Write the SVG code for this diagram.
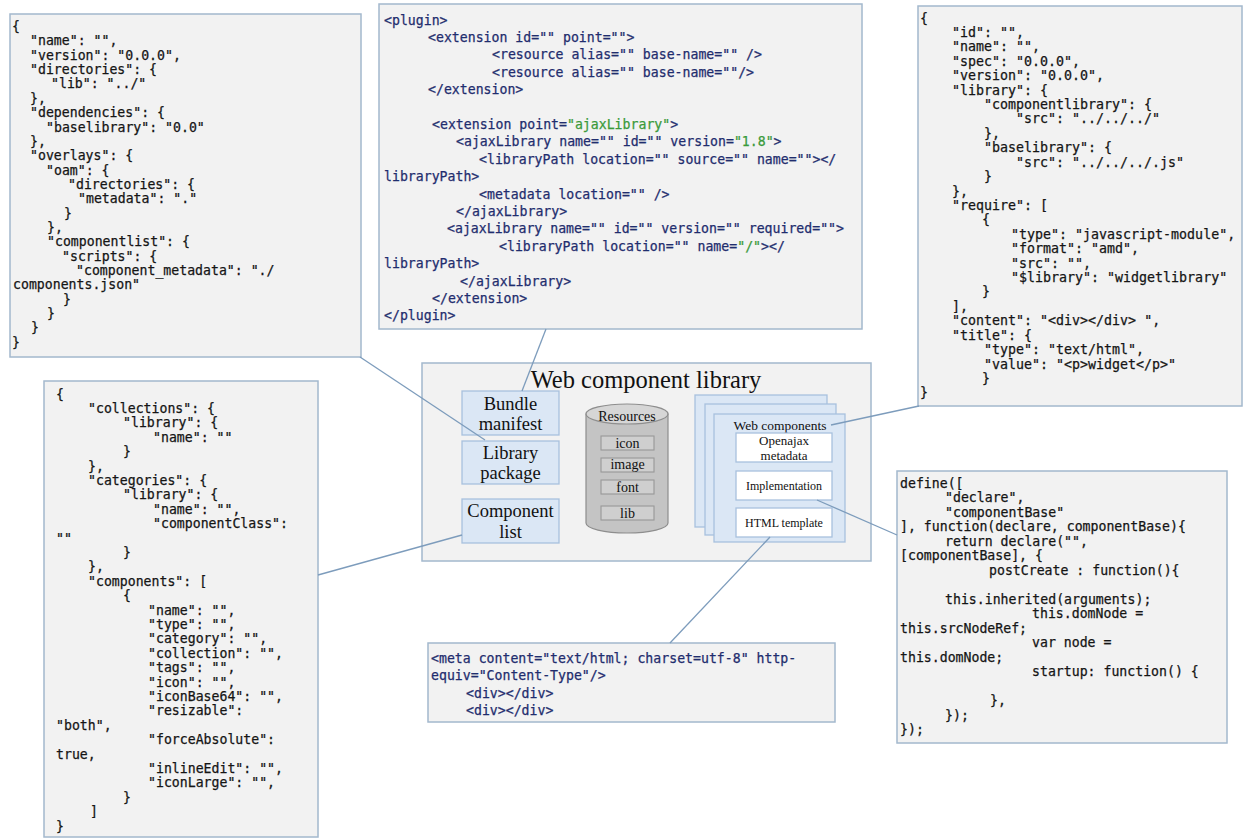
<svg xmlns="http://www.w3.org/2000/svg" width="1246" height="839" viewBox="0 0 1246 839">
<style>
.box{fill:#f2f2f2;stroke:#a3b8cd;stroke-width:1.5}
.code{font-family:"DejaVu Sans Mono","Liberation Mono",monospace;font-size:13.2px;fill:#151515;stroke:#151515;stroke-width:0.25;white-space:pre}
.xml{fill:#1f2d6e;stroke:#1f2d6e}
.g{fill:#3a9a3a;stroke:#3a9a3a}
.serif{font-family:"Liberation Serif","Times New Roman",serif;fill:#111;text-anchor:middle}
.sub{fill:#dbe7f5;stroke:#a8c1dd;stroke-width:1.3}
.wbox{fill:#fff;stroke:#a8c1dd;stroke-width:1.3}
.res{fill:#cfcfcf;stroke:#989898;stroke-width:1.1}
.conn line{stroke:#7d9cbc;stroke-width:1.3}
</style>
<rect width="1246" height="839" fill="#ffffff"/>

<g id="package-json">
<rect class="box" x="10" y="14" width="351" height="343"/>
<text class="code">
<tspan x="12" y="31">{</tspan>
<tspan x="30" y="45.4">"name": "",</tspan>
<tspan x="30" y="59.7">"version": "0.0.0",</tspan>
<tspan x="30" y="74.1">"directories": {</tspan>
<tspan x="51" y="88.4">"lib": "../"</tspan>
<tspan x="30" y="102.8">},</tspan>
<tspan x="30" y="117.1">"dependencies": {</tspan>
<tspan x="46" y="131.5">"baselibrary": "0.0"</tspan>
<tspan x="30" y="145.8">},</tspan>
<tspan x="30" y="160.2">"overlays": {</tspan>
<tspan x="46" y="174.5">"oam": {</tspan>
<tspan x="68" y="188.9">"directories": {</tspan>
<tspan x="78" y="203.2">"metadata": "."</tspan>
<tspan x="64" y="217.6">}</tspan>
<tspan x="47" y="231.9">},</tspan>
<tspan x="47" y="246.3">"componentlist": {</tspan>
<tspan x="62" y="260.6">"scripts": {</tspan>
<tspan x="76" y="275">"component_metadata": "./</tspan>
<tspan x="13" y="289.3">components.json"</tspan>
<tspan x="63" y="303.7">}</tspan>
<tspan x="47" y="318">}</tspan>
<tspan x="31" y="332.4">}</tspan>
<tspan x="12" y="346.7">}</tspan>
</text>
</g>

<g id="bundle-manifest-xml">
<rect class="box" x="379" y="4" width="483" height="325"/>
<text class="code xml">
<tspan x="384" y="24.5">&lt;plugin&gt;</tspan>
<tspan x="428" y="41.9">&lt;extension id="" point=""&gt;</tspan>
<tspan x="492" y="59.3">&lt;resource alias="" base-name="" /&gt;</tspan>
<tspan x="492" y="76.7">&lt;resource alias="" base-name=""/&gt;</tspan>
<tspan x="428" y="94.1">&lt;/extension&gt;</tspan>
<tspan x="432" y="128.9">&lt;extension point=<tspan class="g">"ajaxLibrary"</tspan>&gt;</tspan>
<tspan x="456" y="146.3">&lt;ajaxLibrary name="" id="" version=<tspan class="g">"1.8"</tspan>&gt;</tspan>
<tspan x="479" y="163.7">&lt;libraryPath location="" source="" name=""&gt;&lt;/</tspan>
<tspan x="384" y="181.1">libraryPath&gt;</tspan>
<tspan x="479" y="198.5">&lt;metadata location="" /&gt;</tspan>
<tspan x="456" y="215.9">&lt;/ajaxLibrary&gt;</tspan>
<tspan x="447" y="233.3">&lt;ajaxLibrary name="" id="" version="" required=""&gt;</tspan>
<tspan x="499" y="250.7">&lt;libraryPath location="" name=<tspan class="g">"/"</tspan>&gt;&lt;/</tspan>
<tspan x="384" y="268.1">libraryPath&gt;</tspan>
<tspan x="460" y="285.5">&lt;/ajaxLibrary&gt;</tspan>
<tspan x="432" y="302.9">&lt;/extension&gt;</tspan>
<tspan x="384" y="320.3">&lt;/plugin&gt;</tspan>
</text>
</g>

<g id="openajax-metadata-json">
<rect class="box" x="918" y="6" width="324" height="400"/>
<text class="code" style="font-size:13.3px">
<tspan x="920" y="22.5">{</tspan>
<tspan x="952" y="36.9">"id": "",</tspan>
<tspan x="952" y="51.3">"name": "",</tspan>
<tspan x="952" y="65.8">"spec": "0.0.0",</tspan>
<tspan x="952" y="80.2">"version": "0.0.0",</tspan>
<tspan x="952" y="94.6">"library": {</tspan>
<tspan x="984" y="109">"componentlibrary": {</tspan>
<tspan x="1016" y="123.4">"src": "../../../"</tspan>
<tspan x="984" y="137.9">},</tspan>
<tspan x="984" y="152.3">"baselibrary": {</tspan>
<tspan x="1016" y="166.7">"src": "../../../.js"</tspan>
<tspan x="984" y="181.1">}</tspan>
<tspan x="952" y="195.5">},</tspan>
<tspan x="952" y="209.9">"require": [</tspan>
<tspan x="982" y="224.4">{</tspan>
<tspan x="1011" y="238.8">"type": "javascript-module",</tspan>
<tspan x="1011" y="253.2">"format": "amd",</tspan>
<tspan x="1011" y="267.6">"src": "",</tspan>
<tspan x="1011" y="282">"$library": "widgetlibrary"</tspan>
<tspan x="982" y="296.4">}</tspan>
<tspan x="952" y="310.9">],</tspan>
<tspan x="952" y="325.3">"content": "&lt;div&gt;&lt;/div&gt; ",</tspan>
<tspan x="952" y="339.7">"title": {</tspan>
<tspan x="984" y="354.1">"type": "text/html",</tspan>
<tspan x="984" y="368.5">"value": "&lt;p&gt;widget&lt;/p&gt;"</tspan>
<tspan x="982" y="383">}</tspan>
<tspan x="920" y="397.4">}</tspan>
</text>
</g>

<g id="component-list-json">
<rect class="box" x="44" y="381" width="274" height="456"/>
<text class="code">
<tspan x="56" y="398.5">{</tspan>
<tspan x="88" y="412.9">"collections": {</tspan>
<tspan x="123" y="427.3">"library": {</tspan>
<tspan x="153" y="441.7">"name": ""</tspan>
<tspan x="123" y="456.1">}</tspan>
<tspan x="88" y="470.5">},</tspan>
<tspan x="88" y="484.9">"categories": {</tspan>
<tspan x="123" y="499.3">"library": {</tspan>
<tspan x="153" y="513.7">"name": "",</tspan>
<tspan x="153" y="528.1">"componentClass":</tspan>
<tspan x="56" y="542.5">""</tspan>
<tspan x="123" y="556.9">}</tspan>
<tspan x="88" y="571.3">},</tspan>
<tspan x="88" y="585.7">"components": [</tspan>
<tspan x="123" y="600.1">{</tspan>
<tspan x="148" y="614.5">"name": "",</tspan>
<tspan x="148" y="628.9">"type": "",</tspan>
<tspan x="148" y="643.3">"category": "",</tspan>
<tspan x="148" y="657.7">"collection": "",</tspan>
<tspan x="148" y="672.1">"tags": "",</tspan>
<tspan x="148" y="686.5">"icon": "",</tspan>
<tspan x="148" y="700.9">"iconBase64": "",</tspan>
<tspan x="148" y="715.3">"resizable":</tspan>
<tspan x="56" y="729.7">"both",</tspan>
<tspan x="148" y="744.1">"forceAbsolute":</tspan>
<tspan x="56" y="758.5">true,</tspan>
<tspan x="148" y="772.9">"inlineEdit": "",</tspan>
<tspan x="148" y="787.3">"iconLarge": "",</tspan>
<tspan x="123" y="801.7">}</tspan>
<tspan x="90" y="816.1">]</tspan>
<tspan x="56" y="830.5">}</tspan>
</text>
</g>

<g id="html-template">
<rect class="box" x="428" y="643" width="407" height="79"/>
<text class="code xml">
<tspan x="431" y="662.5">&lt;meta content="text/html; charset=utf-8" http-</tspan>
<tspan x="431" y="680.1">equiv="Content-Type"/&gt;</tspan>
<tspan x="466" y="697.7">&lt;div&gt;&lt;/div&gt;</tspan>
<tspan x="466" y="715.3">&lt;div&gt;&lt;/div&gt;</tspan>
</text>
</g>

<g id="implementation-js">
<rect class="box" x="897" y="471" width="330" height="272"/>
<text class="code">
<tspan x="900" y="487.5">define([</tspan>
<tspan x="945" y="502">"declare",</tspan>
<tspan x="945" y="516.5">"componentBase"</tspan>
<tspan x="900" y="531">], function(declare, componentBase){</tspan>
<tspan x="945" y="545.5">return declare("",</tspan>
<tspan x="900" y="560">[componentBase], {</tspan>
<tspan x="989" y="574.5">postCreate : function(){</tspan>
<tspan x="945" y="603.5">this.inherited(arguments);</tspan>
<tspan x="1032" y="618">this.domNode =</tspan>
<tspan x="900" y="632.5">this.srcNodeRef;</tspan>
<tspan x="1032" y="647">var node =</tspan>
<tspan x="900" y="661.5">this.domNode;</tspan>
<tspan x="1032" y="676">startup: function() {</tspan>
<tspan x="990" y="705">},</tspan>
<tspan x="945" y="719.5">});</tspan>
<tspan x="900" y="734">});</tspan>
</text>
</g>

<g id="web-component-library">
<rect class="box" x="422" y="363" width="449" height="198"/>
<text class="serif" x="646" y="388" style="font-size:24.5px">Web component library</text>
</g>

<g id="bundle-manifest">
<rect class="sub" x="462" y="391" width="97" height="44"/>
<text class="serif" x="510.5" y="409.5" style="font-size:18.5px">Bundle</text>
<text class="serif" x="510.5" y="430" style="font-size:18.5px">manifest</text>
</g>

<g id="library-package">
<rect class="sub" x="462" y="441" width="97" height="43"/>
<text class="serif" x="510.5" y="458.5" style="font-size:18.5px">Library</text>
<text class="serif" x="510.5" y="478.5" style="font-size:18.5px">package</text>
</g>

<g id="component-list">
<rect class="sub" x="462" y="499" width="97" height="44"/>
<text class="serif" x="510.5" y="517" style="font-size:18.5px">Component</text>
<text class="serif" x="510.5" y="538" style="font-size:18.5px">list</text>
</g>

<g id="resources">
<path d="M586,414 L586,523 A41,10 0 0,0 668,523 L668,414 Z" fill="#c4c4c4" stroke="#8e8e8e" stroke-width="1.2"/>
<ellipse cx="627" cy="414" rx="41" ry="10" fill="#d6d6d6" stroke="#8e8e8e" stroke-width="1.2"/>
<text class="serif" x="627" y="421" style="font-size:14px">Resources</text>
<rect class="res" x="601" y="436" width="53" height="14"/>
<text class="serif" x="627.5" y="447.5" style="font-size:14px">icon</text>
<rect class="res" x="601" y="458" width="53" height="14"/>
<text class="serif" x="627.5" y="469" style="font-size:14px">image</text>
<rect class="res" x="601" y="480" width="53" height="14"/>
<text class="serif" x="627.5" y="491.5" style="font-size:14px">font</text>
<rect class="res" x="601" y="506" width="53" height="14"/>
<text class="serif" x="627.5" y="517.5" style="font-size:14px">lib</text>
</g>

<g id="web-components">
<rect class="sub" x="695" y="395" width="132" height="132"/>
<rect class="sub" x="705" y="404" width="131" height="131"/>
<rect class="sub" x="714" y="414" width="131" height="128"/>
<text class="serif" x="780" y="430" style="font-size:13.5px">Web components</text>
</g>

<g id="openajax-metadata">
<rect class="wbox" x="736" y="433" width="96" height="29"/>
<text class="serif" x="784" y="445" style="font-size:13px">Openajax</text>
<text class="serif" x="784" y="459.5" style="font-size:13px">metadata</text>
</g>

<g id="implementation">
<rect class="wbox" x="736" y="471" width="96" height="29"/>
<text class="serif" x="784" y="490" style="font-size:12px">Implementation</text>
</g>

<g id="html-template-node">
<rect class="wbox" x="736" y="508" width="96" height="29"/>
<text class="serif" x="784" y="527" style="font-size:12px">HTML template</text>
</g>

<g class="conn" id="connectors">
<line x1="546" y1="329" x2="522" y2="391"/>
<line x1="360" y1="357" x2="485" y2="440"/>
<line x1="462" y1="535" x2="318" y2="575"/>
<line x1="817" y1="500" x2="897" y2="535"/>
<line x1="770" y1="537" x2="670" y2="643"/>
<line x1="919" y1="406" x2="831" y2="425"/>
</g>
</svg>
